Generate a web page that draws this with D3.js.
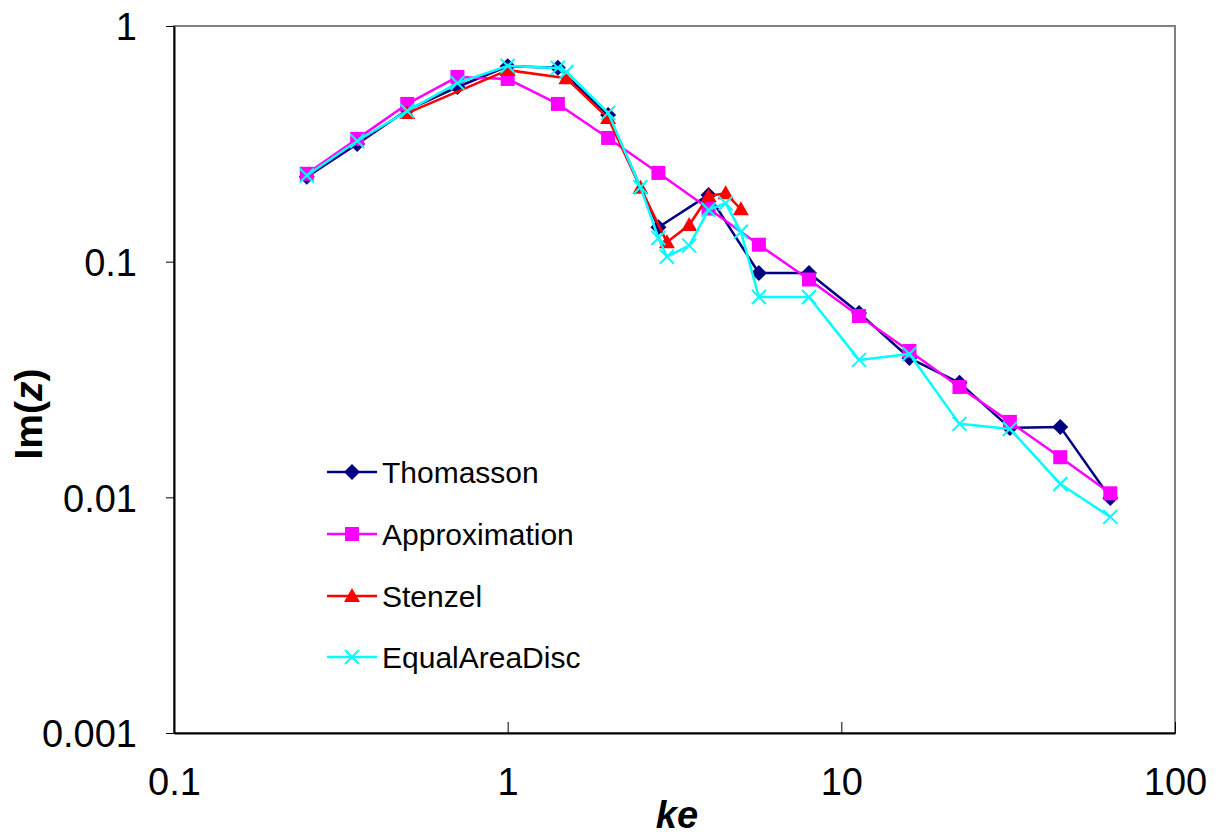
<!DOCTYPE html>
<html>
<head>
<meta charset="utf-8">
<script src="https://cdn.jsdelivr.net/npm/d3@7"></script>
<style>
  html, body { margin: 0; padding: 0; background: #fff; }
  svg { display: block; font-family: "Liberation Sans", Arial, sans-serif; }
</style>
</head>
<body>
<svg id="chart" width="1218" height="837"></svg>
<script>
// --- data ---
const xGrid = [0.25, 0.354, 0.5, 0.707, 1, 1.414, 2, 2.83, 4, 5.66, 8, 11.3, 16, 22.6, 32, 45.3, 64];
const thomasson = [0.229, 0.316, 0.44, 0.551, 0.675, 0.665, 0.419, 0.140, 0.192, 0.0895, 0.0895, 0.0606, 0.039, 0.0306, 0.0197, 0.0199, 0.00994];
const approximation = [0.236, 0.332, 0.467, 0.608, 0.596, 0.467, 0.335, 0.238, 0.168, 0.118, 0.084, 0.0588, 0.0418, 0.0294, 0.0209, 0.0148, 0.0104];

const xStenzel = [0.5, 1, 1.5, 2, 2.5, 3, 3.5, 4, 4.5, 5];
const stenzel = [0.427, 0.65, 0.60, 0.407, 0.206, 0.121, 0.143, 0.19, 0.195, 0.167];

const xDisc = [0.25, 0.354, 0.5, 0.707, 1, 1.414, 1.5, 2, 2.5, 2.83, 3, 3.5, 4, 4.5, 5, 5.66, 8, 11.3, 16, 22.6, 32, 45.3, 64];
const equalAreaDisc = [0.232, 0.325, 0.436, 0.573, 0.677, 0.664, 0.638, 0.428, 0.207, 0.126, 0.105, 0.117, 0.166, 0.177, 0.134, 0.0708, 0.0708, 0.0383, 0.0406, 0.0205, 0.0195, 0.0114, 0.00826];

const xTicks = [0.1, 1, 10, 100];
const xTickLabels = ["0.1", "1", "10", "100"];
const yTicks = [0.001, 0.01, 0.1, 1];
const yTickLabels = ["0.001", "0.01", "0.1", "1"];

const series = [
  { name: "Thomasson",     xs: xGrid,    ys: thomasson,     color: "#000080", marker: "diamond" },
  { name: "Approximation", xs: xGrid,    ys: approximation, color: "#FF00FF", marker: "square" },
  { name: "Stenzel",       xs: xStenzel, ys: stenzel,       color: "#FF0000", marker: "triangle" },
  { name: "EqualAreaDisc", xs: xDisc,    ys: equalAreaDisc, color: "#00FFFF", marker: "cross" }
];

// --- layout ---
const plotLeft = 174, plotRight = 1175, plotTop = 26, plotBottom = 733;
const svg = d3.select("#chart");

const x = d3.scaleLog().domain([0.1, 100]).range([plotLeft, plotRight]);
const y = d3.scaleLog().domain([0.001, 1]).range([plotBottom, plotTop]);

// plot frame (grey top/right like excel)
svg.append("rect")
  .attr("x", plotLeft).attr("y", plotTop)
  .attr("width", plotRight - plotLeft).attr("height", plotBottom - plotTop)
  .attr("fill", "none").attr("stroke", "#808080").attr("stroke-width", 2);

// x axis, ticks pointing inwards
const xAxis = svg.append("g")
  .attr("transform", `translate(0,${plotBottom})`)
  .call(d3.axisBottom(x).tickValues(xTicks).tickSize(-11).tickSizeOuter(0)
    .tickFormat((d, i) => xTickLabels[i]));
xAxis.select(".domain").attr("stroke", "#000").attr("stroke-width", 2);
xAxis.selectAll(".tick line").attr("stroke", "#000").attr("stroke-width", 1);
xAxis.selectAll(".tick text")
  .attr("y", 62).attr("dy", 0)
  .attr("font-size", 38).attr("fill", "#000");

// y axis, ticks outwards
const yAxis = svg.append("g")
  .attr("transform", `translate(${plotLeft},0)`)
  .call(d3.axisLeft(y).tickValues(yTicks).tickSize(8).tickSizeOuter(0)
    .tickFormat((d, i) => yTickLabels[i]));
yAxis.select(".domain").attr("stroke", "#000").attr("stroke-width", 2);
yAxis.selectAll(".tick line").attr("stroke", "#000").attr("stroke-width", 1);
yAxis.selectAll(".tick text")
  .attr("x", -37).attr("dy", "0.36em")
  .attr("font-size", 38).attr("fill", "#000");

// axis titles
svg.append("text")
  .attr("x", 677).attr("y", 828)
  .attr("text-anchor", "middle")
  .attr("font-size", 38).attr("font-weight", "bold").attr("font-style", "italic")
  .text("ke");

const yTitle = svg.append("text")
  .attr("transform", "translate(42,414) rotate(-90)")
  .attr("text-anchor", "middle")
  .attr("font-size", 39).attr("font-weight", "bold");
yTitle.append("tspan").text("Im(");
yTitle.append("tspan").attr("font-style", "italic").text("z");
yTitle.append("tspan").text(")");

// markers
function markerPath(type) {
  switch (type) {
    case "diamond":  return "M0,-8L8,0L0,8L-8,0Z";
    case "square":   return "M-7,-7H7V7H-7Z";
    case "triangle": return "M0,-8L8,6H-8Z";
    case "cross":    return "M-7,-7L7,7M-7,7L7,-7";
  }
}
function drawMarker(g, type, color) {
  const p = g.append("path").attr("d", markerPath(type));
  if (type === "cross") p.attr("fill", "none").attr("stroke", color).attr("stroke-width", 2);
  else p.attr("fill", color);
}

const line = d3.line().x(d => x(d[0])).y(d => y(d[1]));

series.forEach(s => {
  const pts = s.xs.map((v, i) => [v, s.ys[i]]);
  const g = svg.append("g");
  g.append("path")
    .attr("d", line(pts))
    .attr("fill", "none")
    .attr("stroke", s.color)
    .attr("stroke-width", 2.5)
    .attr("stroke-linejoin", "round");
  pts.forEach(p => {
    const m = g.append("g").attr("transform", `translate(${x(p[0])},${y(p[1])})`);
    drawMarker(m, s.marker, s.color);
  });
});

// legend
const legendY = [472, 534, 596, 657];
series.forEach((s, i) => {
  const g = svg.append("g").attr("transform", `translate(327,${legendY[i]})`);
  g.append("line").attr("x1", 0).attr("x2", 50)
    .attr("stroke", s.color).attr("stroke-width", 2.5);
  drawMarker(g.append("g").attr("transform", "translate(25,0)"), s.marker, s.color);
  g.append("text")
    .attr("x", 55).attr("dy", "0.36em")
    .attr("font-size", 30).attr("fill", "#000")
    .text(s.name);
});
</script>
</body>
</html>
